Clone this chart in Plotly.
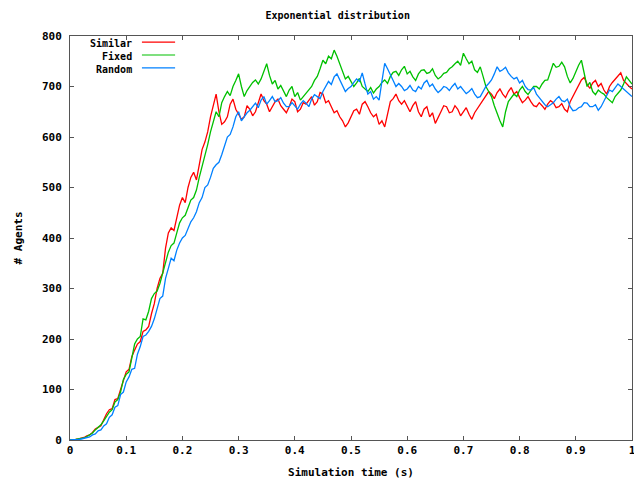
import plotly.graph_objects as go

t = [round(i * 0.005, 3) for i in range(201)]

similar = [0, 0, 1, 2, 3, 5, 8, 10, 15, 22, 25, 28, 40, 52, 60, 62, 80, 82, 100, 118,
           135, 140, 165, 178, 190, 195, 215, 218, 225, 250, 270, 300, 320, 330, 380, 410, 420, 415, 440, 465,
           480, 470, 500, 520, 530, 515, 545, 575, 590, 610, 640, 665, 685, 650, 625, 630, 640, 665, 675, 655,
           645, 635, 640, 662, 655, 642, 650, 668, 685, 672, 665, 650, 660, 670, 675, 662, 655, 648, 660, 675,
           670, 650, 655, 668, 665, 672, 680, 663, 670, 688, 685, 668, 672, 660, 648, 652, 640, 632, 620, 628,
           640, 652, 655, 645, 665, 670, 660, 648, 640, 645, 625, 632, 620, 648, 670, 676, 685, 672, 665, 672,
           660, 650, 662, 670, 650, 640, 655, 660, 640, 648, 627, 640, 650, 662, 660, 648, 650, 662, 655, 642,
           650, 658, 645, 635, 648, 656, 665, 672, 680, 690, 685, 676, 688, 695, 685, 678, 690, 698, 685, 690,
           678, 668, 673, 680, 670, 662, 660, 668, 662, 655, 665, 672, 668, 658, 660, 666, 655, 650, 670, 680,
           690, 700, 713, 718, 705, 696, 707, 712, 700, 706, 693, 685, 700, 708, 715, 720, 727, 712, 705, 700,
           695]

fixed = [0, 0, 1, 2, 3, 4, 7, 10, 14, 20, 25, 30, 38, 48, 55, 60, 75, 80, 95, 120,
         130, 135, 165, 190, 200, 205, 240, 238, 255, 280, 290, 295, 310, 330, 350, 372, 385, 390, 410, 430,
         440, 445, 460, 475, 480, 495, 520, 540, 565, 585, 610, 628, 650, 640, 668, 680, 690, 682, 700, 712,
         725, 700, 680, 692, 700, 708, 713, 705, 715, 730, 745, 722, 705, 712, 695, 702, 690, 680, 693, 700,
         680, 688, 673, 680, 685, 692, 700, 712, 720, 735, 752, 745, 760, 755, 772, 760, 746, 730, 715, 720,
         710, 700, 707, 716, 700, 694, 690, 698, 687, 695, 700, 708, 713, 706, 720, 728, 730, 722, 733, 740,
         725, 730, 719, 712, 725, 732, 733, 726, 728, 735, 722, 715, 719, 726, 728, 735, 739, 745, 750, 742,
         766, 755, 745, 750, 733, 728, 739, 720, 700, 690, 680, 662, 645, 632, 620, 650, 670, 678, 685, 680,
         693, 700, 690, 684, 693, 700, 700, 695, 705, 712, 713, 728, 746, 738, 740, 748, 739, 720, 707, 716,
         730, 742, 752, 725, 700, 708, 690, 684, 693, 688, 685, 678, 673, 668, 680, 686, 693, 705, 719, 712,
         705]

random_ = [0, 0, 1, 1, 2, 3, 5, 6, 10, 12, 18, 20, 28, 32, 45, 50, 65, 68, 90, 95,
           115, 125, 140, 142, 170, 185, 205, 208, 215, 225, 240, 262, 280, 285, 320, 340, 360, 355, 376, 390,
           400, 405, 420, 432, 440, 452, 470, 480, 500, 505, 520, 538, 545, 550, 565, 585, 600, 605, 620, 640,
           650, 632, 640, 648, 653, 660, 667, 658, 673, 680, 665, 672, 680, 670, 672, 678, 667, 660, 660, 668,
           662, 655, 665, 672, 667, 660, 675, 684, 680, 676, 690, 700, 710, 704, 719, 725, 713, 700, 690, 696,
           700, 708, 715, 710, 727, 705, 685, 690, 675, 680, 673, 710, 746, 735, 725, 712, 700, 706, 700, 692,
           695, 702, 693, 690, 700, 695, 707, 712, 700, 705, 695, 688, 693, 700, 698, 692, 700, 706, 695, 700,
           693, 686, 690, 696, 685, 678, 680, 690, 700, 706, 713, 725, 739, 730, 733, 738, 727, 720, 715, 718,
           707, 712, 700, 694, 693, 698, 685, 678, 670, 664, 660, 665, 668, 675, 680, 672, 670, 675, 660, 652,
           653, 658, 660, 668, 667, 660, 660, 664, 653, 660, 670, 682, 693, 690, 698, 705, 700, 695, 690, 685,
           680]

series_names = ["Similar", "Fixed", "Random"]
series_values = [similar, fixed, random_]
colors = ["#ff0000", "#00c000", "#0080ff"]

x_ticks = [0, 0.1, 0.2, 0.3, 0.4, 0.5, 0.6, 0.7, 0.8, 0.9, 1]
x_tick_labels = ["0", "0.1", "0.2", "0.3", "0.4", "0.5", "0.6", "0.7", "0.8", "0.9", "1"]
y_ticks = [0, 100, 200, 300, 400, 500, 600, 700, 800]

FONT = "DejaVu Sans Mono"

fig = go.Figure()
for name, vals, col in zip(series_names, series_values, colors):
    fig.add_trace(go.Scatter(x=t, y=vals, mode="lines", name=name,
                             line=dict(color=col, width=1.3), showlegend=False))

# gnuplot-style key: right-aligned names followed by line samples
fig.add_annotation(xref="paper", yref="paper", x=0.114, y=0.999, xanchor="right", yanchor="top",
                   align="right", showarrow=False,
                   text="<br>".join("<b>%s</b>" % n for n in series_names),
                   font=dict(family=FONT, size=10, color="#000"))
legend_y = [0.985, 0.953, 0.921]
for col, yp in zip(colors, legend_y):
    fig.add_shape(type="line", xref="paper", yref="paper", x0=0.128, x1=0.187, y0=yp, y1=yp,
                  line=dict(color=col, width=1.2))

axis_common = dict(showgrid=False, zeroline=False, showline=True, linecolor="#555",
                   linewidth=1, mirror="allticks", ticks="inside", ticklen=4,
                   tickcolor="#555", automargin=False,
                   tickfont=dict(family=FONT, size=11, color="#000"))

fig.update_layout(
    width=634, height=474,
    margin=dict(l=62, r=10, t=28, b=42, autoexpand=False),
    paper_bgcolor="white", plot_bgcolor="white",
    title=dict(text="<b>Exponential distribution</b>", x=0.52, xanchor="center",
               y=0.985, yanchor="middle", font=dict(family=FONT, size=10, color="#000"),
               automargin=False),
    xaxis=dict(range=[0, 1], tickvals=x_ticks, ticktext=["<b>%s</b>" % s for s in x_tick_labels],
               title=dict(text="<b>Simulation time (s)</b>", standoff=12,
                          font=dict(family=FONT, size=11, color="#000")), **axis_common),
    yaxis=dict(range=[0, 800], tickvals=y_ticks, ticktext=["<b>%d</b>" % v for v in y_ticks],
               ticklabelstandoff=5,
               title=dict(text="<b># Agents</b>", standoff=17,
                          font=dict(family=FONT, size=11, color="#000")), **axis_common),
)

fig.write_html("out.html")
